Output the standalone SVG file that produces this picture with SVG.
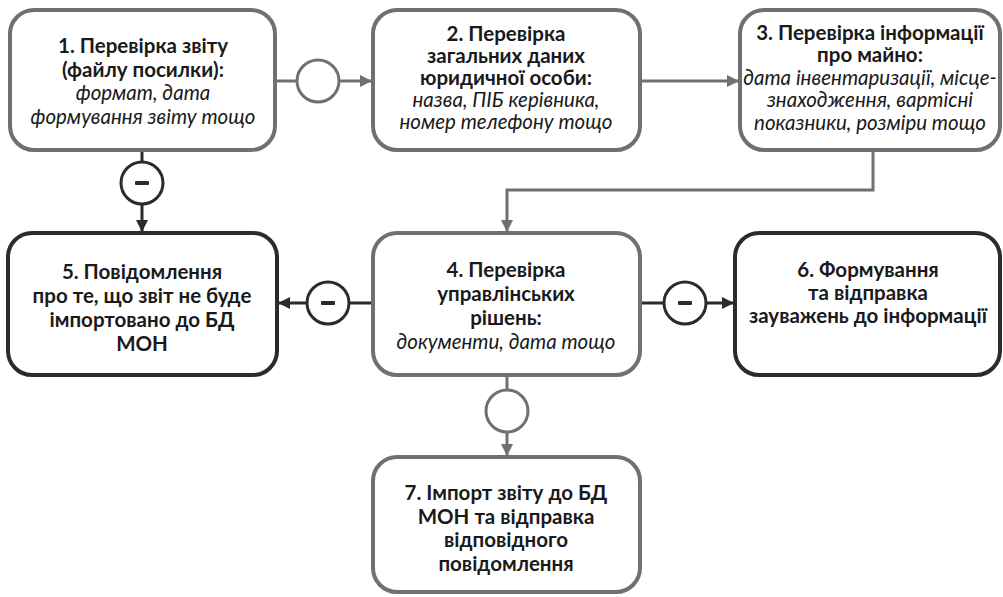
<svg xmlns="http://www.w3.org/2000/svg" width="1003" height="597" viewBox="0 0 1003 597">
<defs>
<style>
.bg{fill:#fff}
.box{fill:#fff;stroke-width:4}
.g{stroke:#6f7072}
.d{stroke:#2b2b2b}
.ln{fill:none;stroke-width:3}
.t{font-family:Lato,"Open Sans",sans-serif;font-size:20.5px;fill:#1a1a1a;text-anchor:middle}
.b{font-weight:bold}
.i{font-style:italic;font-weight:normal;font-size:20.5px}
.minus{fill:#2b2b2b}
</style>
<marker id="ag" viewBox="0 0 12 12" refX="11" refY="6" markerWidth="12" markerHeight="12" markerUnits="userSpaceOnUse" orient="auto"><path d="M0,0 L12,6 L0,12 z" fill="#6f7072"/></marker>
<marker id="ad" viewBox="0 0 12 12" refX="11" refY="6" markerWidth="12" markerHeight="12" markerUnits="userSpaceOnUse" orient="auto"><path d="M0,0 L12,6 L0,12 z" fill="#2b2b2b"/></marker>
</defs>
<rect class="bg" x="0" y="0" width="1003" height="597"/>
<g id="connectors">
<line class="ln g" x1="277" y1="81" x2="297" y2="81"/>
<circle class="ln g" cx="318" cy="81" r="21" fill="#fff"/>
<line class="ln g" x1="339" y1="81" x2="371" y2="81" marker-end="url(#ag)"/>
<line class="ln g" x1="640" y1="81" x2="738" y2="81" marker-end="url(#ag)"/>
<polyline class="ln g" points="873,150 873,190 507,190 507,231" marker-end="url(#ag)"/>
<line class="ln d" x1="142" y1="150" x2="142" y2="162"/>
<circle class="ln d" cx="142" cy="183" r="21" fill="#fff"/>
<rect class="minus" x="135" y="181" width="14" height="4" rx="1"/>
<line class="ln d" x1="142" y1="204" x2="142" y2="231" marker-end="url(#ad)"/>
<line class="ln d" x1="373" y1="303" x2="349" y2="303"/>
<circle class="ln d" cx="328" cy="303" r="21" fill="#fff"/>
<rect class="minus" x="321" y="301" width="14" height="4" rx="1"/>
<line class="ln d" x1="307" y1="303" x2="279" y2="303" marker-end="url(#ad)"/>
<line class="ln d" x1="640" y1="303" x2="664" y2="303"/>
<circle class="ln d" cx="685" cy="303" r="21" fill="#fff"/>
<rect class="minus" x="678" y="301" width="14" height="4" rx="1"/>
<line class="ln d" x1="706" y1="303" x2="733" y2="303" marker-end="url(#ad)"/>
<line class="ln g" x1="507" y1="375" x2="507" y2="390"/>
<circle class="ln g" cx="507" cy="411" r="21" fill="#fff"/>
<line class="ln g" x1="507" y1="432" x2="507" y2="455" marker-end="url(#ag)"/>
</g>
<g id="n1">
<rect class="box g" x="10" y="10" width="265" height="140" rx="24"/>
<text class="t b"><tspan x="143" y="53">1. Перевірка звіту</tspan><tspan x="143" y="76.5">(файлу посилки):</tspan><tspan class="i" x="143" y="100">формат, дата</tspan><tspan class="i" x="143" y="123.5">формування звіту тощо</tspan></text>
</g>
<g id="n2">
<rect class="box g" x="373" y="10" width="267" height="140" rx="24"/>
<text class="t b"><tspan x="506" y="41">2. Перевірка</tspan><tspan x="506" y="63">загальних даних</tspan><tspan x="506" y="85">юридичної особи:</tspan><tspan class="i" x="506" y="107">назва, ПІБ керівника,</tspan><tspan class="i" x="506" y="129">номер телефону тощо</tspan></text>
</g>
<g id="n3">
<rect class="box g" x="740" y="10" width="260" height="140" rx="24"/>
<text class="t b"><tspan x="870" y="40">3. Перевірка інформації</tspan><tspan x="870" y="62">про майно:</tspan><tspan class="i" x="870" y="84.5">дата інвентаризації, місце-</tspan><tspan class="i" x="870" y="107">знаходження, вартісні</tspan><tspan class="i" x="870" y="129.5">показники, розміри тощо</tspan></text>
</g>
<g id="n4">
<rect class="box g" x="373" y="233" width="267" height="142" rx="24"/>
<text class="t b"><tspan x="506" y="277">4. Перевірка</tspan><tspan x="506" y="301">управлінських</tspan><tspan x="506" y="325">рішень:</tspan><tspan class="i" x="506" y="349">документи, дата тощо</tspan></text>
</g>
<g id="n5">
<rect class="box d" x="8" y="233" width="269" height="142" rx="24"/>
<text class="t b"><tspan x="142" y="279">5. Повідомлення</tspan><tspan x="142" y="303">про те, що звіт не буде</tspan><tspan x="142" y="327">імпортовано до БД</tspan><tspan x="142" y="351">МОН</tspan></text>
</g>
<g id="n6">
<rect class="box d" x="735" y="233" width="265" height="142" rx="24"/>
<text class="t b"><tspan x="868" y="277">6. Формування</tspan><tspan x="868" y="300">та відправка</tspan><tspan x="868" y="323">зауважень до інформації</tspan></text>
</g>
<g id="n7">
<rect class="box g" x="373" y="457" width="267" height="135" rx="24"/>
<text class="t b"><tspan x="506" y="500">7. Імпорт звіту до БД</tspan><tspan x="506" y="523.5">МОН та відправка</tspan><tspan x="506" y="547">відповідного</tspan><tspan x="506" y="570.5">повідомлення</tspan></text>
</g>
</svg>
